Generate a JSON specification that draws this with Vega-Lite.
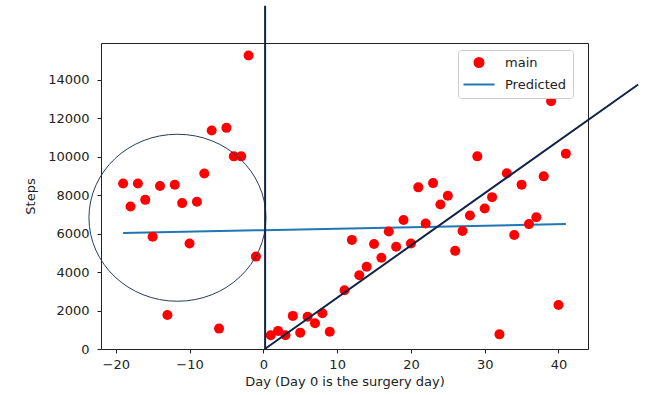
{
  "$schema": "https://vega.github.io/schema/vega-lite/v6.json",
  "width": 487,
  "height": 306,
  "autosize": "none",
  "padding": {"left": 101, "top": 43, "right": 59, "bottom": 46},
  "background": "white",
  "config": {
    "view": {"stroke": "#222222", "strokeWidth": 1},
    "font": "DejaVu Sans",
    "axis": {
      "grid": false,
      "domain": false,
      "tickColor": "#222222",
      "tickSize": 4,
      "labelFont": "DejaVu Sans",
      "labelFontSize": 13,
      "labelColor": "#222222",
      "titleFont": "DejaVu Sans",
      "titleFontSize": 13,
      "titleFontWeight": "normal",
      "titleColor": "#222222"
    }
  },
  "datasets": {
    "main": [
      {"day": -19, "steps": 8600, "series": "main"},
      {"day": -18, "steps": 7400, "series": "main"},
      {"day": -17, "steps": 8600, "series": "main"},
      {"day": -16, "steps": 7750, "series": "main"},
      {"day": -15, "steps": 5830, "series": "main"},
      {"day": -14, "steps": 8470, "series": "main"},
      {"day": -13, "steps": 1770, "series": "main"},
      {"day": -12, "steps": 8530, "series": "main"},
      {"day": -11, "steps": 7580, "series": "main"},
      {"day": -10, "steps": 5480, "series": "main"},
      {"day": -9, "steps": 7650, "series": "main"},
      {"day": -8, "steps": 9120, "series": "main"},
      {"day": -7, "steps": 11350, "series": "main"},
      {"day": -6, "steps": 1060, "series": "main"},
      {"day": -5, "steps": 11490, "series": "main"},
      {"day": -4, "steps": 10010, "series": "main"},
      {"day": -3, "steps": 10010, "series": "main"},
      {"day": -2, "steps": 15250, "series": "main"},
      {"day": -1, "steps": 4800, "series": "main"},
      {"day": 1, "steps": 710, "series": "main"},
      {"day": 2, "steps": 940, "series": "main"},
      {"day": 3, "steps": 710, "series": "main"},
      {"day": 4, "steps": 1720, "series": "main"},
      {"day": 5, "steps": 850, "series": "main"},
      {"day": 6, "steps": 1680, "series": "main"},
      {"day": 7, "steps": 1340, "series": "main"},
      {"day": 8, "steps": 1860, "series": "main"},
      {"day": 9, "steps": 900, "series": "main"},
      {"day": 11, "steps": 3050, "series": "main"},
      {"day": 12, "steps": 5670, "series": "main"},
      {"day": 13, "steps": 3830, "series": "main"},
      {"day": 14, "steps": 4270, "series": "main"},
      {"day": 15, "steps": 5460, "series": "main"},
      {"day": 16, "steps": 4740, "series": "main"},
      {"day": 17, "steps": 6110, "series": "main"},
      {"day": 18, "steps": 5310, "series": "main"},
      {"day": 19, "steps": 6700, "series": "main"},
      {"day": 20, "steps": 5480, "series": "main"},
      {"day": 21, "steps": 8400, "series": "main"},
      {"day": 22, "steps": 6520, "series": "main"},
      {"day": 23, "steps": 8620, "series": "main"},
      {"day": 24, "steps": 7510, "series": "main"},
      {"day": 25, "steps": 7960, "series": "main"},
      {"day": 26, "steps": 5100, "series": "main"},
      {"day": 27, "steps": 6130, "series": "main"},
      {"day": 28, "steps": 6940, "series": "main"},
      {"day": 29, "steps": 10010, "series": "main"},
      {"day": 30, "steps": 7300, "series": "main"},
      {"day": 31, "steps": 7890, "series": "main"},
      {"day": 32, "steps": 760, "series": "main"},
      {"day": 33, "steps": 9130, "series": "main"},
      {"day": 34, "steps": 5920, "series": "main"},
      {"day": 35, "steps": 8540, "series": "main"},
      {"day": 36, "steps": 6490, "series": "main"},
      {"day": 37, "steps": 6850, "series": "main"},
      {"day": 38, "steps": 8970, "series": "main"},
      {"day": 39, "steps": 12870, "series": "main"},
      {"day": 40, "steps": 2290, "series": "main"},
      {"day": 41, "steps": 10150, "series": "main"}
    ],
    "predicted": [
      {"day": -19, "steps": 6030, "series": "Predicted"},
      {"day": 0, "steps": 6175, "series": "Predicted"},
      {"day": 41, "steps": 6490, "series": "Predicted"}
    ],
    "vline": [
      {"day": 0.24, "from": 0, "to": 17840}
    ],
    "diag": [
      {"day": 0.2, "steps": 0},
      {"day": 50.8, "steps": 13745}
    ],
    "ring": [
      {"day": -11.64, "steps": 6820}
    ]
  },
  "layer": [
    {
      "data": {"name": "predicted"},
      "mark": {"type": "line", "strokeWidth": 2},
      "encoding": {
        "x": {"field": "day", "type": "quantitative", "scale": {"domain": [-22, 44], "nice": false, "zero": false},
              "axis": {"values": [-20, -10, 0, 10, 20, 30, 40], "format": "d", "title": "Day (Day 0 is the surgery day)", "titlePadding": 4, "labelPadding": 5}},
        "y": {"field": "steps", "type": "quantitative", "scale": {"domain": [0, 15900], "nice": false, "zero": false},
              "axis": {"values": [0, 2000, 4000, 6000, 8000, 10000, 12000, 14000], "format": "d", "title": "Steps", "titlePadding": 10, "labelPadding": 8}},
        "color": {
          "field": "series", "type": "nominal",
          "scale": {"domain": ["main", "Predicted"], "range": ["#ff0000", "#1f77b4"]},
          "legend": {
            "title": null,
            "orient": "none",
            "legendX": 357,
            "legendY": 7,
            "fillColor": "white",
            "strokeColor": "#cccccc",
            "cornerRadius": 3,
            "padding": 6,
            "labelFont": "DejaVu Sans",
            "labelFontSize": 13,
            "labelColor": "#222222",
            "labelOffset": 28,
            "rowPadding": 7,
            "symbolSize": 81,
            "symbolStrokeWidth": 2,
            "encode": {
              "symbols": {
                "update": {
                  "x": {"value": 15},
                  "stroke": {"scale": "color", "field": "value"}
                }
              }
            }
          }
        },
        "shape": {
          "field": "series", "type": "nominal",
          "scale": {"domain": ["main", "Predicted"], "range": ["circle", "M-3.45,0L3.45,0"]}
        }
      }
    },
    {
      "data": {"name": "main"},
      "mark": {"type": "point", "filled": true, "size": 100, "opacity": 1},
      "encoding": {
        "x": {"field": "day", "type": "quantitative"},
        "y": {"field": "steps", "type": "quantitative"},
        "color": {"field": "series", "type": "nominal"},
        "shape": {"field": "series", "type": "nominal"}
      }
    },
    {
      "data": {"name": "ring"},
      "mark": {"type": "point", "shape": "M-1.029,0A1.029,0.971,0,1,0,1.029,0A1.029,0.971,0,1,0,-1.029,0Z", "filled": false, "size": 29584, "stroke": "#2a3a5c", "strokeWidth": 1, "opacity": 1, "clip": false},
      "encoding": {
        "x": {"field": "day", "type": "quantitative"},
        "y": {"field": "steps", "type": "quantitative"}
      }
    },
    {
      "data": {"name": "vline"},
      "mark": {"type": "rule", "color": "#0f2248", "strokeWidth": 2, "clip": false},
      "encoding": {
        "x": {"field": "day", "type": "quantitative"},
        "y": {"field": "from", "type": "quantitative"},
        "y2": {"field": "to"}
      }
    },
    {
      "data": {"name": "diag"},
      "mark": {"type": "line", "color": "#0f2248", "strokeWidth": 2, "clip": false},
      "encoding": {
        "x": {"field": "day", "type": "quantitative"},
        "y": {"field": "steps", "type": "quantitative"}
      }
    }
  ]
}
